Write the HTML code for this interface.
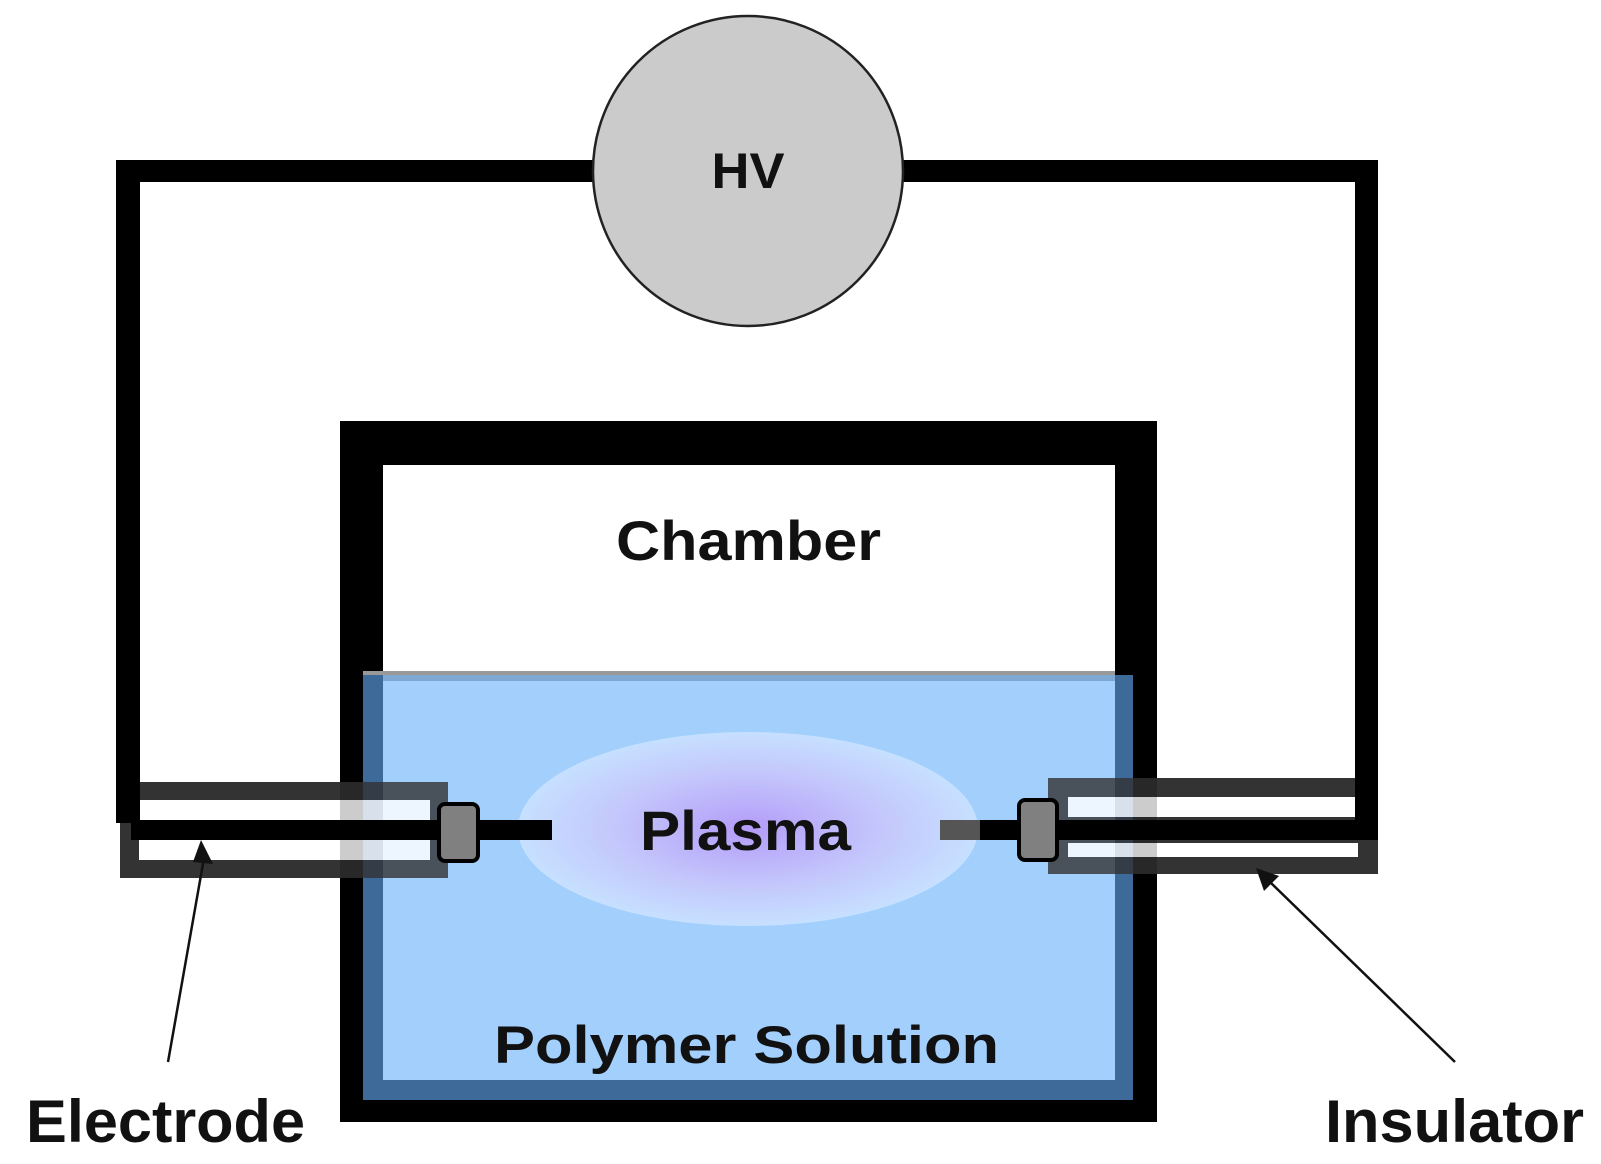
<!DOCTYPE html>
<html><head><meta charset="utf-8"><style>
html,body{margin:0;padding:0;background:#fff;}
svg{display:block;}
text{font-family:"Liberation Sans",Arial,sans-serif;font-weight:bold;fill:#111;}
</style></head><body>
<svg width="1601" height="1164" viewBox="0 0 1601 1164" xmlns="http://www.w3.org/2000/svg">
<defs>
<radialGradient id="pg" cx="50%" cy="50%" r="50%">
<stop offset="0" stop-color="#b49cf8"/>
<stop offset="0.6" stop-color="#c4c8fc"/>
<stop offset="1" stop-color="#c6e0ff"/>
</radialGradient>
</defs>
<rect x="116" y="160" width="24" height="663" fill="#000"/>
<rect x="116" y="160" width="1262" height="22" fill="#000"/>
<rect x="1355" y="160" width="23" height="680" fill="#000"/>
<circle cx="748" cy="171" r="155" fill="#cbcbcb" stroke="#222" stroke-width="2.5"/>
<text x="748" y="188" font-size="50" text-anchor="middle" textLength="73" lengthAdjust="spacingAndGlyphs">HV</text>
<rect x="340" y="421" width="817" height="701" fill="#000"/>
<rect x="383" y="465" width="732" height="210" fill="#fff"/>
<rect x="363" y="671" width="752" height="4" fill="#999"/>
<rect x="363" y="675" width="770" height="425" fill="#3e6a99"/>
<rect x="383" y="681" width="732" height="399" fill="#a3cffd"/>
<rect x="383" y="675" width="732" height="6" fill="#7ea8d2"/>
<ellipse cx="748" cy="829" rx="230" ry="97" fill="url(#pg)"/>
<!-- left insulator -->
<rect x="120" y="782" width="328" height="96" fill="#333"/>
<rect x="140" y="800" width="290" height="20" fill="#fff"/>
<rect x="139" y="840" width="291" height="20" fill="#fff"/>
<rect x="340" y="782" width="23" height="96" fill="#000" fill-opacity="0.2"/>
<rect x="363" y="782" width="20" height="96" fill="#3e6a99" fill-opacity="0.2"/>
<rect x="383" y="782" width="65" height="96" fill="#a3cffd" fill-opacity="0.2"/>
<rect x="116" y="700" width="24" height="123" fill="#000"/>
<rect x="131" y="820" width="421" height="20" fill="#000"/>
<rect x="439" y="804" width="39" height="57" rx="6" fill="#808080" stroke="#000" stroke-width="4"/>
<!-- right insulator -->
<rect x="1048" y="778" width="330" height="96" fill="#333"/>
<rect x="1068" y="797" width="287" height="20" fill="#fff"/>
<rect x="1068" y="843" width="290" height="14" fill="#fff"/>
<rect x="1048" y="778" width="67" height="96" fill="#a3cffd" fill-opacity="0.2"/>
<rect x="1115" y="778" width="18" height="96" fill="#3e6a99" fill-opacity="0.2"/>
<rect x="1133" y="778" width="24" height="96" fill="#000" fill-opacity="0.2"/>
<rect x="1355" y="700" width="23" height="140" fill="#000"/>
<rect x="940" y="820" width="40" height="20" fill="#555"/>
<rect x="980" y="820" width="398" height="20" fill="#000"/>
<rect x="1019" y="800" width="38" height="60" rx="6" fill="#808080" stroke="#000" stroke-width="4"/>
<text x="616" y="560" font-size="56" textLength="265" lengthAdjust="spacingAndGlyphs">Chamber</text>
<text x="640" y="850" font-size="56" textLength="211" lengthAdjust="spacingAndGlyphs">Plasma</text>
<text x="494" y="1063" font-size="53" textLength="505" lengthAdjust="spacingAndGlyphs">Polymer Solution</text>
<text x="26" y="1142" font-size="60" textLength="279" lengthAdjust="spacingAndGlyphs">Electrode</text>
<text x="1325" y="1142" font-size="60" textLength="259" lengthAdjust="spacingAndGlyphs">Insulator</text>
<line x1="168" y1="1062" x2="204" y2="858" stroke="#111" stroke-width="2.5"/>
<polygon points="201,840 193,862 213,864" fill="#111"/>
<line x1="1455" y1="1062" x2="1270" y2="882" stroke="#111" stroke-width="2.5"/>
<polygon points="1256,868 1264,891 1279,876" fill="#111"/>
</svg>
</body></html>
